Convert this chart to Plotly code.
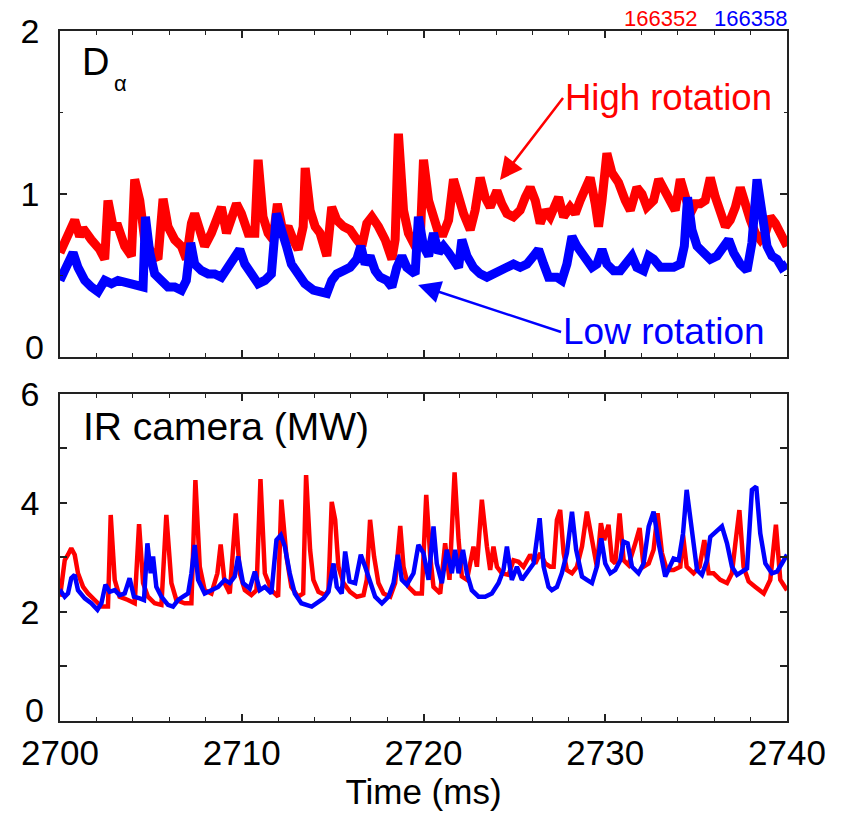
import plotly.graph_objects as go

# ---- D-alpha (top panel) ----
t_da_red = [2700.0, 2700.44, 2700.81, 2701.08, 2701.27, 2701.72, 2702.18, 2702.46, 2702.64, 2702.92,
            2703.19, 2703.56, 2703.93, 2704.11, 2704.39, 2704.66, 2705.03, 2705.39, 2705.67, 2705.94,
            2706.31, 2706.68, 2706.95, 2707.23, 2707.41, 2707.69, 2707.96, 2708.33, 2708.70, 2708.88,
            2709.16, 2709.43, 2709.71, 2709.98, 2710.35, 2710.72, 2710.90, 2711.17, 2711.45, 2711.72,
            2711.96, 2712.28, 2712.55, 2712.83, 2713.10, 2713.38, 2713.49, 2713.76, 2714.04, 2714.31,
            2714.68, 2714.95, 2715.23, 2715.60, 2715.96, 2716.33, 2716.61, 2716.88, 2717.16, 2717.52,
            2717.89, 2718.26, 2718.44, 2718.62, 2718.90, 2719.17, 2719.54, 2719.82, 2720.00, 2720.28,
            2720.55, 2720.83, 2721.10, 2721.38, 2721.65, 2721.93, 2722.20, 2722.57, 2722.84, 2723.12,
            2723.39, 2723.67, 2724.04, 2724.31, 2724.59, 2724.95, 2725.32, 2725.60, 2725.87, 2726.15,
            2726.42, 2726.70, 2726.97, 2727.43, 2727.71, 2728.07, 2728.35, 2728.62, 2728.90, 2729.17,
            2729.45, 2729.63, 2729.82, 2730.09, 2730.37, 2730.73, 2731.10, 2731.38, 2731.74, 2732.02,
            2732.29, 2732.66, 2732.94, 2733.21, 2733.49, 2733.85, 2734.13, 2734.40, 2734.68, 2734.95,
            2735.23, 2735.50, 2735.78, 2736.06, 2736.33, 2736.61, 2736.88, 2737.16, 2737.43, 2737.71,
            2737.98, 2738.26, 2738.53, 2738.81, 2739.08, 2739.36, 2739.63, 2739.91, 2740.0]
v_da_red = [0.64, 0.76, 0.84, 0.74, 0.79, 0.72, 0.66, 0.60, 0.96, 0.80,
            0.80, 0.68, 0.62, 1.09, 0.96, 0.72, 0.64, 0.60, 0.97, 0.80,
            0.72, 0.68, 0.60, 0.82, 0.88, 0.78, 0.68, 0.76, 0.88, 0.92,
            0.76, 0.84, 0.94, 0.88, 0.76, 0.76, 1.21, 0.86, 0.76, 0.72,
            0.94, 0.76, 0.80, 0.72, 0.66, 0.80, 1.16, 0.90, 0.80, 0.76,
            0.62, 0.92, 0.84, 0.80, 0.78, 0.72, 0.68, 0.82, 0.86, 0.80,
            0.72, 0.60, 0.72, 1.37, 0.90, 0.76, 0.68, 0.72, 1.21, 0.96,
            0.84, 0.76, 0.76, 0.84, 1.09, 0.98, 0.88, 0.78, 0.90, 1.10,
            0.98, 0.92, 1.02, 0.94, 0.88, 0.86, 0.90, 0.98, 1.04, 0.96,
            0.82, 0.90, 0.86, 0.98, 0.86, 0.92, 0.88, 0.96, 1.04, 1.10,
            0.94, 0.80, 0.96, 1.25, 1.13, 1.07, 0.96, 0.90, 1.04, 1.00,
            0.92, 0.96, 1.09, 1.04, 0.98, 0.90, 1.09, 0.96, 0.88, 0.94,
            0.94, 0.96, 1.10, 0.98, 0.90, 0.80, 0.84, 0.92, 1.04, 0.92,
            0.84, 0.76, 0.72, 0.76, 0.86, 0.82, 0.76, 0.70, 0.68]

t_da_blue = [2700.0, 2700.17, 2700.44, 2700.72, 2700.99, 2701.36, 2701.72, 2702.09, 2702.46, 2702.83,
             2703.19, 2703.56, 2703.93, 2704.29, 2704.57, 2704.70, 2704.94, 2705.21, 2705.58, 2705.94,
             2706.31, 2706.68, 2706.95, 2707.19, 2707.41, 2707.78, 2708.15, 2708.51, 2708.88, 2709.25,
             2709.61, 2709.89, 2710.17, 2710.53, 2710.90, 2711.27, 2711.63, 2711.91, 2712.18, 2712.46,
             2712.73, 2713.10, 2713.47, 2713.94, 2714.31, 2714.68, 2714.95, 2715.23, 2715.60, 2715.96,
             2716.33, 2716.55, 2716.79, 2717.06, 2717.34, 2717.61, 2717.98, 2718.26, 2718.53, 2718.81,
             2719.08, 2719.36, 2719.54, 2719.72, 2720.00, 2720.28, 2720.55, 2720.83, 2721.10, 2721.38,
             2721.65, 2721.93, 2722.11, 2722.39, 2722.75, 2723.12, 2723.49, 2723.85, 2724.22, 2724.59,
             2724.95, 2725.32, 2725.69, 2726.06, 2726.33, 2726.61, 2726.88, 2727.34, 2727.61, 2727.89,
             2728.17, 2728.44, 2728.72, 2728.99, 2729.27, 2729.54, 2729.82, 2730.09, 2730.46, 2730.83,
             2731.19, 2731.47, 2731.74, 2732.11, 2732.39, 2732.66, 2733.03, 2733.39, 2733.76, 2734.13,
             2734.35, 2734.53, 2734.77, 2735.05, 2735.41, 2735.78, 2736.15, 2736.51, 2736.79, 2737.06,
             2737.43, 2737.80, 2738.07, 2738.35, 2738.62, 2738.90, 2739.17, 2739.45, 2739.72, 2740.0]
v_da_blue = [0.47, 0.51, 0.55, 0.64, 0.55, 0.47, 0.43, 0.40, 0.47, 0.45,
             0.47, 0.46, 0.46, 0.45, 0.43, 0.86, 0.64, 0.51, 0.47, 0.43,
             0.43, 0.41, 0.47, 0.70, 0.57, 0.53, 0.51, 0.51, 0.49, 0.55,
             0.60, 0.66, 0.57, 0.51, 0.45, 0.47, 0.51, 0.88, 0.80, 0.68,
             0.57, 0.51, 0.45, 0.41, 0.40, 0.39, 0.47, 0.51, 0.53, 0.55,
             0.60, 0.68, 0.57, 0.62, 0.53, 0.49, 0.47, 0.43, 0.55, 0.62,
             0.55, 0.53, 0.51, 0.86, 0.68, 0.62, 0.76, 0.64, 0.68, 0.64,
             0.60, 0.55, 0.72, 0.62, 0.55, 0.51, 0.49, 0.51, 0.53, 0.55,
             0.57, 0.55, 0.57, 0.62, 0.66, 0.57, 0.49, 0.49, 0.47, 0.57,
             0.74, 0.68, 0.64, 0.60, 0.55, 0.57, 0.66, 0.57, 0.53, 0.53,
             0.57, 0.62, 0.55, 0.53, 0.62, 0.60, 0.55, 0.55, 0.55, 0.57,
             0.68, 0.98, 0.78, 0.68, 0.64, 0.60, 0.62, 0.68, 0.72, 0.64,
             0.57, 0.53, 0.70, 1.09, 0.86, 0.68, 0.62, 0.60, 0.55, 0.57]

# ---- IR camera (bottom panel) ----
t_ir_red = [2700.0, 2700.07, 2700.26, 2700.44, 2700.62, 2700.81, 2700.99, 2701.27, 2701.54, 2701.91,
            2702.28, 2702.64, 2702.79, 2703.01, 2703.28, 2703.74, 2704.11, 2704.35, 2704.57, 2704.84,
            2705.21, 2705.58, 2705.85, 2706.13, 2706.40, 2706.86, 2707.23, 2707.45, 2707.69, 2707.96,
            2708.33, 2708.66, 2708.84, 2709.06, 2709.34, 2709.67, 2709.89, 2710.17, 2710.53, 2710.81,
            2711.03, 2711.27, 2711.63, 2712.00, 2712.18, 2712.46, 2712.73, 2713.10, 2713.38, 2713.54,
            2713.76, 2713.94, 2714.22, 2714.59, 2714.77, 2714.95, 2715.14, 2715.32, 2715.60, 2715.96,
            2716.33, 2716.70, 2716.88, 2717.06, 2717.28, 2717.52, 2717.80, 2718.17, 2718.44, 2718.72,
            2718.90, 2719.17, 2719.54, 2719.91, 2720.15, 2720.37, 2720.55, 2720.92, 2721.19, 2721.43,
            2721.71, 2721.93, 2722.11, 2722.39, 2722.75, 2722.94, 2723.21, 2723.49, 2723.67, 2723.85,
            2724.04, 2724.31, 2724.68, 2724.95, 2725.23, 2725.50, 2725.87, 2726.15, 2726.42, 2726.70,
            2726.97, 2727.16, 2727.34, 2727.52, 2727.71, 2727.89, 2728.17, 2728.44, 2728.72, 2728.99,
            2729.27, 2729.54, 2729.76, 2729.94, 2730.18, 2730.37, 2730.55, 2730.79, 2731.01, 2731.28,
            2731.65, 2731.89, 2732.11, 2732.39, 2732.66, 2732.88, 2733.12, 2733.39, 2733.76, 2734.13,
            2734.28, 2734.48, 2734.86, 2735.19, 2735.45, 2735.69, 2735.96, 2736.33, 2736.70, 2736.97,
            2737.16, 2737.38, 2737.61, 2737.89, 2738.26, 2738.72, 2739.08, 2739.39, 2739.63, 2740.0]
v_ir_red = [2.28, 2.46, 2.95, 3.05, 3.17, 3.05, 2.71, 2.46, 2.34, 2.22,
            2.10, 2.10, 3.78, 2.59, 2.28, 2.22, 2.16, 3.61, 2.53, 2.28,
            2.16, 2.13, 3.78, 2.53, 2.22, 2.16, 2.16, 4.42, 2.83, 2.40,
            2.34, 2.71, 3.24, 2.53, 2.34, 3.81, 2.71, 2.40, 2.31, 2.40,
            4.44, 2.71, 2.40, 2.28, 4.06, 3.02, 2.46, 2.28, 2.34, 4.51,
            3.14, 2.59, 2.37, 2.31, 2.40, 4.02, 3.69, 2.83, 2.53, 2.37,
            2.28, 2.31, 2.59, 3.69, 3.02, 2.53, 2.34, 2.28, 2.53, 3.58,
            2.83, 2.46, 2.34, 2.34, 4.15, 3.02, 2.46, 2.34, 3.26, 2.59,
            4.56, 3.32, 2.65, 2.59, 3.20, 2.83, 4.06, 3.20, 2.77, 3.20,
            2.83, 2.71, 2.68, 2.95, 2.92, 2.83, 3.05, 2.89, 3.08, 2.89,
            2.83, 2.83, 3.69, 3.87, 3.08, 2.77, 2.71, 2.83, 3.20, 3.84,
            3.32, 2.83, 3.63, 3.32, 3.60, 2.95, 2.89, 3.81, 2.95, 2.86,
            3.26, 3.54, 2.83, 2.89, 3.14, 3.81, 3.08, 2.77, 2.77, 2.83,
            3.41, 2.83, 2.71, 2.83, 3.32, 2.71, 2.71, 2.59, 2.53, 2.71,
            3.26, 3.87, 2.83, 2.56, 2.46, 2.34, 2.59, 3.60, 2.59, 2.40]

t_ir_blue = [2700.0, 2700.07, 2700.26, 2700.44, 2700.62, 2700.81, 2700.99, 2701.36, 2701.72, 2702.06,
             2702.28, 2702.50, 2702.73, 2703.01, 2703.28, 2703.56, 2703.83, 2704.07, 2704.39, 2704.62,
             2704.81, 2704.99, 2705.12, 2705.30, 2705.58, 2705.94, 2706.22, 2706.50, 2706.77, 2707.05,
             2707.23, 2707.41, 2707.60, 2707.96, 2708.33, 2708.70, 2709.06, 2709.34, 2709.61, 2709.80,
             2710.07, 2710.44, 2710.72, 2710.99, 2711.27, 2711.63, 2711.91, 2712.15, 2712.37, 2712.64,
             2712.92, 2713.28, 2713.85, 2714.22, 2714.50, 2714.77, 2715.05, 2715.23, 2715.50, 2715.69,
             2715.93, 2716.24, 2716.55, 2716.79, 2717.06, 2717.34, 2717.71, 2718.07, 2718.35, 2718.59,
             2718.81, 2719.08, 2719.45, 2719.72, 2720.00, 2720.28, 2720.55, 2720.73, 2721.01, 2721.28,
             2721.56, 2721.74, 2721.93, 2722.17, 2722.39, 2722.66, 2723.03, 2723.39, 2723.76, 2724.13,
             2724.40, 2724.59, 2724.86, 2725.14, 2725.41, 2725.78, 2726.06, 2726.39, 2726.61, 2726.88,
             2727.06, 2727.34, 2727.61, 2727.89, 2728.17, 2728.40, 2728.72, 2728.99, 2729.27, 2729.54,
             2729.78, 2730.00, 2730.28, 2730.55, 2730.83, 2731.01, 2731.23, 2731.47, 2731.83, 2732.11,
             2732.39, 2732.66, 2732.94, 2733.30, 2733.58, 2733.76, 2734.04, 2734.28, 2734.48, 2734.77,
             2735.05, 2735.32, 2735.60, 2735.78, 2736.06, 2736.42, 2736.70, 2736.97, 2737.25, 2737.52,
             2737.80, 2738.07, 2738.31, 2738.53, 2738.81, 2739.17, 2739.45, 2739.72, 2740.0]
v_ir_blue = [2.34, 2.37, 2.28, 2.34, 2.62, 2.68, 2.40, 2.25, 2.16, 2.04,
             2.16, 2.50, 2.37, 2.40, 2.31, 2.34, 2.62, 2.28, 2.25, 2.22,
             3.26, 2.71, 3.02, 2.46, 2.28, 2.13, 2.10, 2.22, 2.28, 2.34,
             2.71, 3.23, 2.59, 2.34, 2.40, 2.46, 2.59, 2.53, 2.65, 3.02,
             2.53, 2.43, 2.74, 2.40, 2.46, 2.34, 3.32, 3.41, 3.20, 2.71,
             2.34, 2.16, 2.10, 2.19, 2.25, 2.37, 2.89, 2.46, 2.34, 3.11,
             2.56, 2.53, 3.05, 2.83, 2.53, 2.28, 2.16, 2.28, 2.53, 3.05,
             2.59, 2.50, 2.71, 3.23, 3.08, 2.59, 3.57, 2.89, 2.53, 3.14,
             2.71, 3.14, 2.71, 3.14, 2.71, 2.40, 2.28, 2.28, 2.34, 2.53,
             2.77, 3.20, 2.59, 2.83, 2.59, 2.77, 2.89, 3.72, 2.83, 2.46,
             2.40, 2.46, 2.71, 3.08, 3.84, 3.14, 2.65, 2.59, 2.53, 2.83,
             3.35, 2.89, 2.71, 2.77, 2.95, 3.29, 3.26, 2.83, 2.71, 2.89,
             3.57, 3.84, 3.26, 2.65, 2.83, 2.98, 2.95, 3.44, 4.24, 3.44,
             2.77, 2.68, 2.95, 3.38, 3.47, 3.57, 3.26, 2.83, 2.68, 2.74,
             2.80, 4.24, 4.30, 3.44, 2.89, 2.71, 2.74, 2.89, 3.05]

x_ticks = [2700, 2710, 2720, 2730, 2740]
y_top_ticks = [1, 2]
y_bot_ticks = [2, 4, 6]
zero_label = "0"
shot_labels = ["166352", "166358"]

RED = "#ff0000"
BLUE = "#0000ff"
FONT = "Liberation Sans, Arial, Helvetica, sans-serif"
AX = "#222222"

fig = go.Figure()
fig.add_trace(go.Scatter(x=t_da_red, y=v_da_red, mode="lines", line=dict(color=RED, width=9),
                         xaxis="x2", yaxis="y2", showlegend=False))
fig.add_trace(go.Scatter(x=t_da_blue, y=v_da_blue, mode="lines", line=dict(color=BLUE, width=9),
                         xaxis="x2", yaxis="y2", showlegend=False))
fig.add_trace(go.Scatter(x=t_ir_red, y=v_ir_red, mode="lines", line=dict(color=RED, width=4.5),
                         xaxis="x", yaxis="y", showlegend=False))
fig.add_trace(go.Scatter(x=t_ir_blue, y=v_ir_blue, mode="lines", line=dict(color=BLUE, width=4.5),
                         xaxis="x", yaxis="y", showlegend=False))

xcommon = dict(range=[2700, 2740], tickvals=x_ticks, ticks="inside", ticklen=7, tickwidth=1.5,
               tickcolor=AX, showline=True, linecolor=AX, linewidth=1.5, mirror="ticks",
               showgrid=False, zeroline=False,
               minor=dict(dtick=2, ticks="inside", ticklen=4, tickwidth=1.2, tickcolor=AX, showgrid=False))
ycommon = dict(ticks="inside", ticklen=7, tickwidth=1.5, tickcolor=AX, showline=True, linecolor=AX,
               linewidth=1.5, mirror="ticks", showgrid=False, zeroline=False,
               tickfont=dict(size=34), ticklabelstandoff=12)

fig.update_layout(
    width=844, height=815,
    margin=dict(l=60, r=57, t=31, b=94),
    plot_bgcolor="white", paper_bgcolor="white",
    font=dict(family=FONT, color="black", size=35),
    xaxis=dict(**xcommon, anchor="y", domain=[0, 1],
               tickfont=dict(size=35), ticklabelstandoff=0,
               title=dict(text="Time (ms)", font=dict(size=35), standoff=4)),
    yaxis=dict(**ycommon, domain=[0, 0.474], range=[0, 6], tickvals=y_bot_ticks, anchor="x",
               minor=dict(dtick=1, ticks="inside", ticklen=7, tickwidth=1.5, tickcolor=AX)),
    xaxis2=dict(**xcommon, anchor="y2", domain=[0, 1], matches="x", showticklabels=False),
    yaxis2=dict(**ycommon, domain=[0.5275, 1], range=[0, 2], tickvals=y_top_ticks, anchor="x2",
                minor=dict(dtick=0.5, ticks="inside", ticklen=3, tickwidth=1.2, tickcolor=AX)),
)

annotations = [
    dict(text=zero_label, x=0, y=0, xref="paper", yref="y", xanchor="right", yanchor="middle",
         xshift=-14, yshift=11, showarrow=False, font=dict(size=34, color="black")),
    dict(text=zero_label, x=0, y=0, xref="paper", yref="y2", xanchor="right", yanchor="middle",
         xshift=-14, yshift=10, showarrow=False, font=dict(size=34, color="black")),
    dict(text="D", x=2701.1, y=1.81, xref="x2", yref="y2", xanchor="left", yanchor="middle",
         showarrow=False, font=dict(size=38, color="black")),
    dict(text="α", x=2702.85, y=1.68, xref="x2", yref="y2", xanchor="left", yanchor="middle",
         showarrow=False, font=dict(size=22, color="black")),
    dict(text="IR camera (MW)", x=2701.15, y=5.4, xref="x", yref="y", xanchor="left", yanchor="middle",
         showarrow=False, font=dict(size=39, color="black")),
    dict(text="High rotation", x=2724.21, y=1.086, xref="x2", yref="y2", showarrow=True,
         ax=63, ay=-82, xanchor="left", yanchor="middle",
         arrowhead=2, arrowsize=1.8, arrowwidth=2.5, arrowcolor=RED, standoff=0,
         font=dict(size=36.5, color=RED)),
    dict(text="Low rotation", x=2719.70, y=0.442, xref="x2", yref="y2", showarrow=True,
         ax=143, ay=47, xanchor="left", yanchor="middle",
         arrowhead=2, arrowsize=1.8, arrowwidth=2.5, arrowcolor=BLUE, standoff=0,
         font=dict(size=37, color=BLUE)),
    dict(text=shot_labels[0], x=0.879, y=1.0, xref="paper", yref="paper", xanchor="right",
         yanchor="bottom", yshift=-2, showarrow=False, font=dict(size=22, color=RED)),
    dict(text=shot_labels[1], x=1.0, y=1.0, xref="paper", yref="paper", xanchor="right",
         yanchor="bottom", yshift=-2, xshift=2, showarrow=False, font=dict(size=22, color=BLUE)),
]
fig.update_layout(annotations=annotations)

fig.write_html("out.html")
